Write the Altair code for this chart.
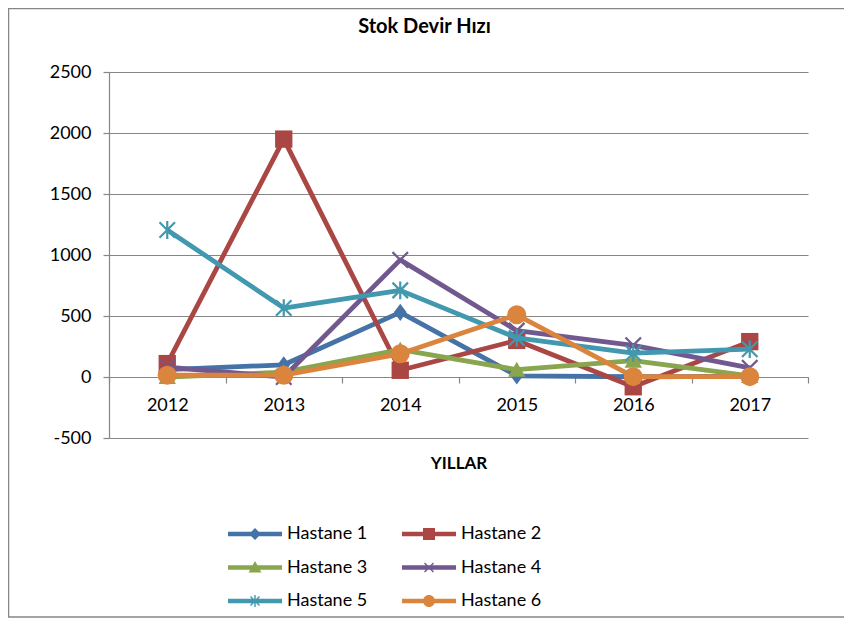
import altair as alt
import pandas as pd

years = ["2012", "2013", "2014", "2015", "2016", "2017"]
series = ["Hastane 1", "Hastane 2", "Hastane 3", "Hastane 4", "Hastane 5", "Hastane 6"]
h1 = [60, 100, 530, 10, 2, 5]
h2 = [110, 1950, 55, 300, -80, 290]
h3 = [0, 40, 225, 60, 135, 10]
h4 = [80, 0, 960, 380, 260, 75]
h5 = [1205, 565, 710, 320, 195, 228]
h6 = [15, 15, 190, 510, 3, 3]
y_ticks = [-500, 0, 500, 1000, 1500, 2000, 2500]
colors = ["#4572A7", "#AA4643", "#89A54E", "#71588F", "#4198AF", "#DB843D"]

rows = []
for s, vals in zip(series, [h1, h2, h3, h4, h5, h6]):
    for yr, v in zip(years, vals):
        rows.append({"year": yr, "series": s, "value": v})
df = pd.DataFrame(rows)

W, H = 699, 366
GRAY = "#868686"
FONT = "Lato"

x_enc = alt.X(
    "year:O",
    scale=alt.Scale(type="band", domain=years, paddingInner=0, paddingOuter=0),
    bandPosition=0.5,
    axis=alt.Axis(
        title="YILLAR", offset=-61, tickBand="extent", grid=False,
        domainColor=GRAY, tickColor=GRAY, tickSize=6, domainWidth=1.2, tickWidth=1.2,
        labelAngle=0, labelFont=FONT, labelFontSize=18, labelColor="black", labelPadding=13,
        titleFont=FONT, titleFontSize=17, titleFontWeight="bold", titleColor="black",
        titleY=86, titleBaseline="middle",
    ),
)
y_enc = alt.Y(
    "value:Q",
    scale=alt.Scale(domain=[-500, 2500], nice=False, zero=False),
    axis=alt.Axis(
        values=y_ticks, title=None, grid=True, gridColor=GRAY, gridWidth=1.2,
        domainColor=GRAY, tickColor=GRAY, tickSize=6, domainWidth=1.2, tickWidth=1.2,
        labelExpr="'' + datum.value",
        labelFont=FONT, labelFontSize=18, labelColor="black", labelPadding=12,
    ),
)

cross = "M-1,-1L1,1M-1,1L1,-1"
aster = "M-1,-1L1,1M-1,1L1,-1M0,-1.15L0,1.15"
tri = "M0,-1L1.1,0.9H-1.1Z"
dia = "M0,-1.15L0.85,0L0,1.15L-0.85,0Z"
marker_specs = [
    (dia, True, 225),
    ("square", True, 300),
    (tri, True, 250),
    (cross, False, 240),
    (aster, False, 240),
    ("circle", True, 361),
]

layers = []
frame = alt.Chart(alt.Data(values=[{"k": 1}])).mark_rect(
    fill="transparent", stroke=GRAY, strokeWidth=1.5, clip=False
).encode(x=alt.value(-100.5), x2=alt.value(760), y=alt.value(-63.5), y2=alt.value(545))
layers.append(frame)

for s, c, (shape, filled, size) in zip(series, colors, marker_specs):
    base = alt.Chart(df).transform_filter(alt.datum.series == s)
    line = base.mark_line(color=c, strokeWidth=4.8, strokeJoin="round").encode(x=x_enc, y=y_enc)
    pts = base.mark_point(
        shape=shape, filled=filled, color=c, size=size, opacity=1, strokeWidth=2.2
    ).encode(x=x_enc, y=y_enc)
    layers += [line, pts]

bar = "M-2.7,-0.22H2.7V0.22H-2.7Z"
leg_paths = [
    bar + "M0,-0.6L0.6,0L0,0.6L-0.6,0Z",
    bar + "M-0.6,-0.6H0.6V0.6H-0.6Z",
    bar + "M0,-0.65L0.65,0.5H-0.65Z",
    bar + "M-0.5,-0.4L-0.4,-0.5L0.5,0.4L0.4,0.5ZM0.4,-0.5L0.5,-0.4L-0.4,0.5L-0.5,0.4Z",
    bar + "M-0.5,-0.4L-0.4,-0.5L0.5,0.4L0.4,0.5ZM0.4,-0.5L0.5,-0.4L-0.4,0.5L-0.5,0.4ZM-0.07,-0.6H0.07V0.6H-0.07Z",
    bar + "M-0.6,0A0.6,0.6 0 1,1 0.6,0A0.6,0.6 0 1,1 -0.6,0Z",
]
leg_cfg = dict(
    orient="none", legendX=136, legendY=452, columns=2, direction="horizontal", title=None,
    symbolSize=400, symbolStrokeWidth=0, labelOffset=22, rowPadding=14.5, columnPadding=34,
    labelFont=FONT, labelFontSize=18, labelColor="black", padding=0,
)
legend_layer = alt.Chart(df).transform_filter("false").mark_point(filled=True, opacity=1).encode(
    color=alt.Color("series:N", scale=alt.Scale(domain=series, range=colors), legend=alt.Legend(**leg_cfg)),
    shape=alt.Shape("series:N", scale=alt.Scale(domain=series, range=leg_paths), legend=alt.Legend(**leg_cfg)),
)
layers.append(legend_layer)

chart = alt.layer(*layers).properties(
    width=W, height=H,
    title=alt.TitleParams(
        "Stok Devir Hızı", font=FONT, fontSize=20, fontWeight="bold", color="black",
        anchor="middle", frame="group", dx=-34, offset=-49, baseline="bottom",
    ),
    autosize=alt.AutoSizeParams(type="none"),
    padding={"left": 101, "top": 64, "right": 36, "bottom": 183},
).configure_view(strokeWidth=0)

chart.save("out.html", embed_options={"renderer": "svg", "actions": False})
